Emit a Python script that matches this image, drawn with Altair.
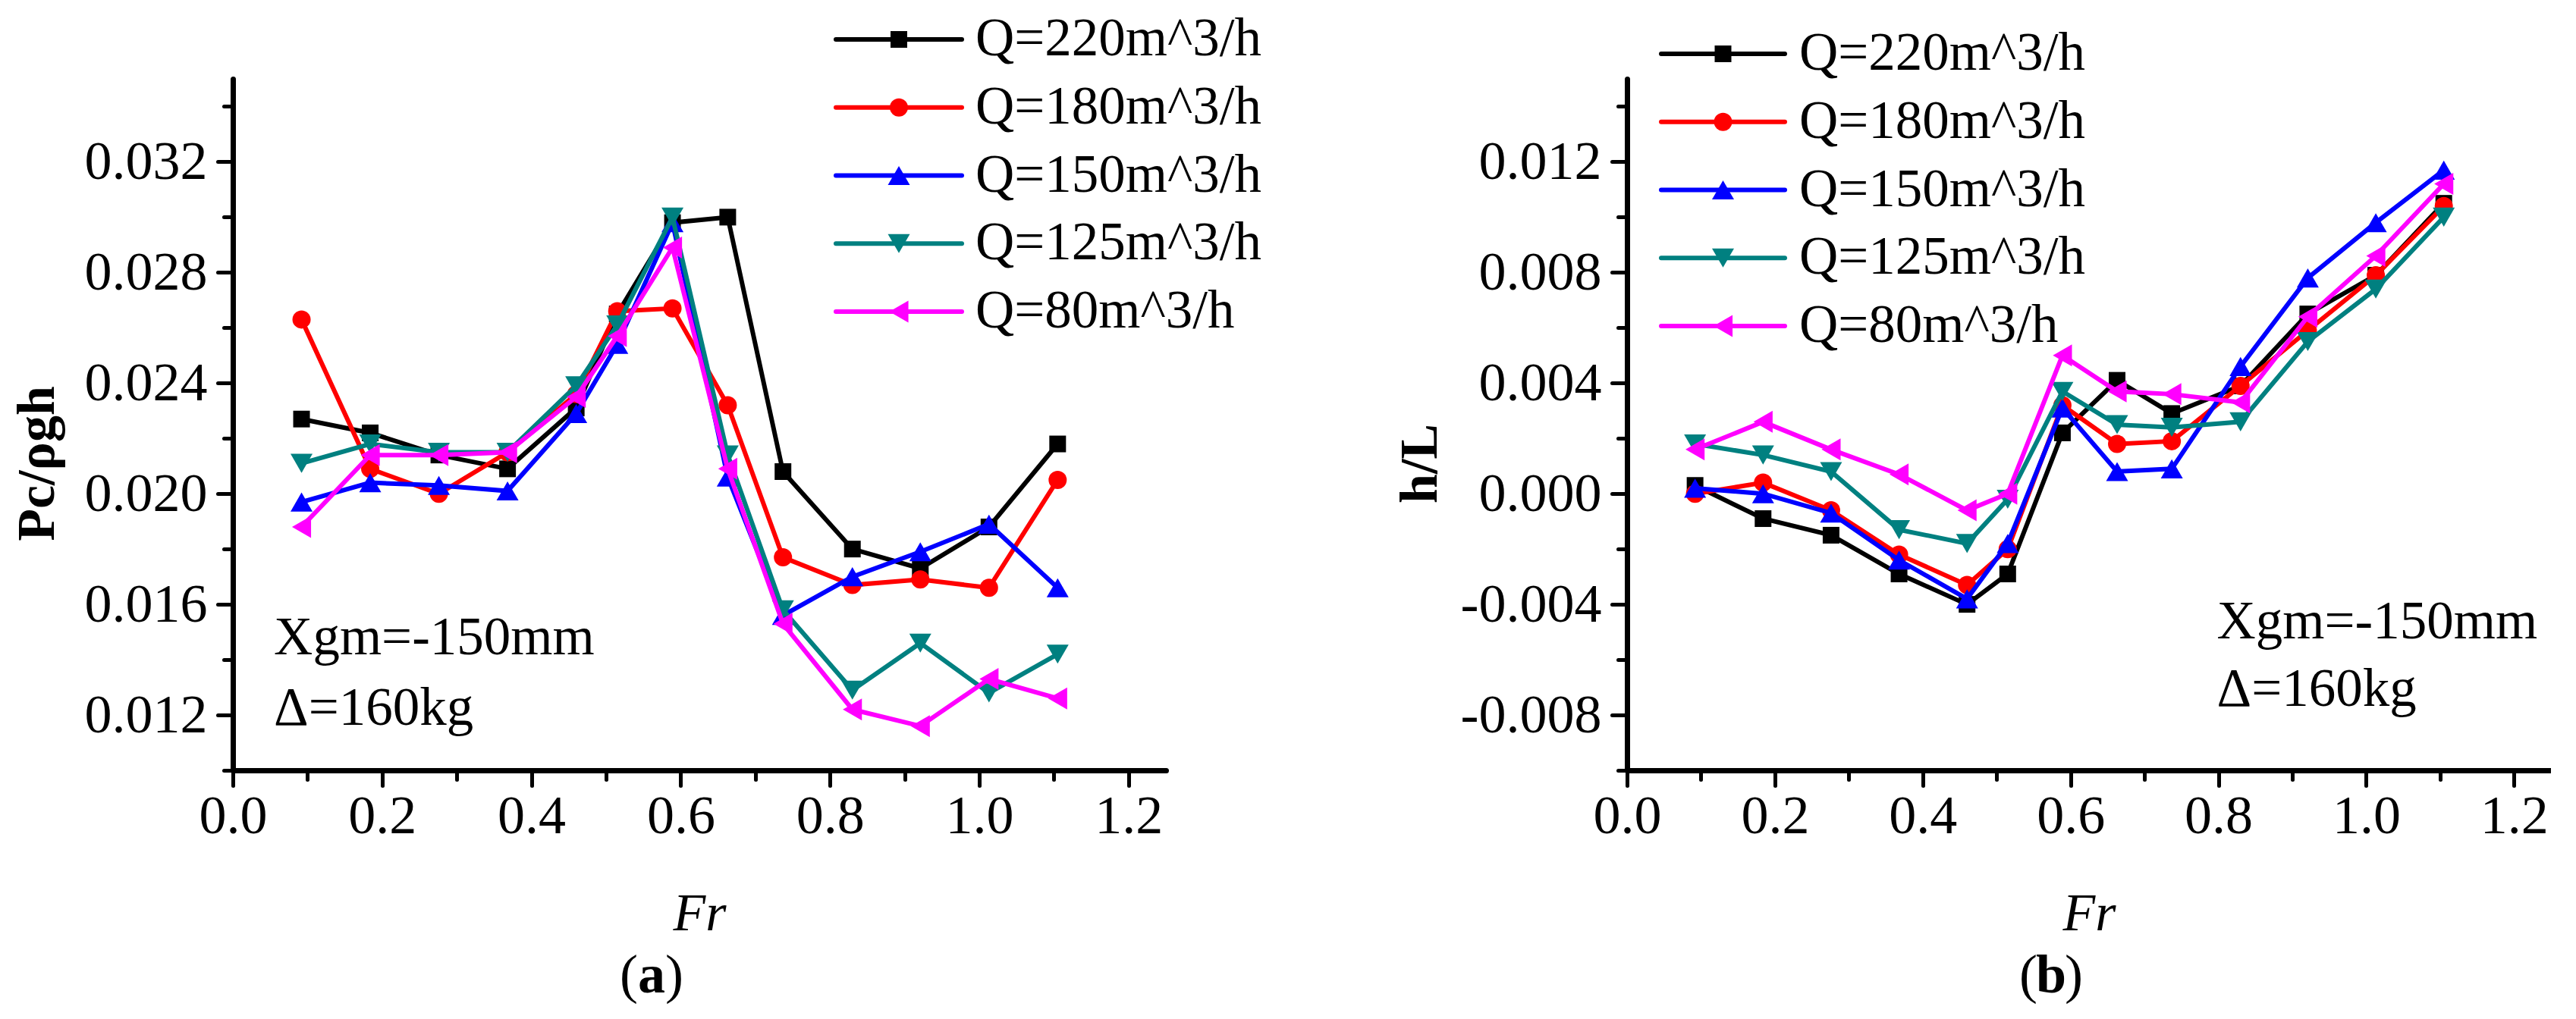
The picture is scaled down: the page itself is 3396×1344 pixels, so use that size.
import altair as alt
import pandas as pd

SERIF = "Liberation Serif"

# ---------------- data ----------------
FR = [0.092, 0.184, 0.276, 0.368, 0.460, 0.515, 0.589, 0.663, 0.737, 0.830, 0.921, 1.013, 1.105]
SERIES = ["Q=220m^3/h", "Q=180m^3/h", "Q=150m^3/h", "Q=125m^3/h", "Q=80m^3/h"]
COLORS = ["#000000", "#FF0000", "#0000FF", "#008080", "#FF00FF"]
SHAPES = ["square", "circle", "triangle-up", "triangle-down", "triangle-left"]
SIZES = [484, 576, 841, 841, 841]

# panel (a): Pc/rho g h
PC_220 = [0.0227, 0.0222, 0.0214, 0.0209, 0.0231, 0.0265, 0.0298, 0.0300, 0.0208, 0.0180, 0.0173, 0.0188, 0.0218]
PC_180 = [0.0263, 0.0209, 0.0200, 0.0215, 0.0236, 0.0266, 0.0267, 0.0232, 0.0177, 0.0167, 0.0169, 0.0166, 0.0205]
PC_150 = [0.0197, 0.0204, 0.0203, 0.0201, 0.0229, 0.0254, 0.0298, 0.0206, 0.0156, 0.0170, 0.0179, 0.0189, 0.0166]
PC_125 = [0.0211, 0.0218, 0.0215, 0.0215, 0.0239, 0.0261, 0.0300, 0.0214, 0.0158, 0.0129, 0.0146, 0.0128, 0.0142]
PC_80 = [0.0188, 0.0214, 0.0214, 0.0215, 0.0235, 0.0257, 0.0289, 0.0209, 0.0153, 0.0122, 0.0116, 0.0133, 0.0126]

# panel (b): h/L
HL_220 = [0.0003, -0.0009, -0.0015, -0.0029, -0.0040, -0.0029, 0.0022, 0.0041, 0.0029, 0.0039, 0.0065, 0.0079, 0.0105]
HL_180 = [0.0000, 0.0004, -0.0006, -0.0022, -0.0033, -0.0020, 0.0032, 0.0018, 0.0019, 0.0039, 0.0059, 0.0079, 0.0104]
HL_150 = [0.0002, 0.0000, -0.0007, -0.0024, -0.0038, -0.0018, 0.0031, 0.0008, 0.0009, 0.0046, 0.0078, 0.0098, 0.0117]
HL_125 = [0.0018, 0.0014, 0.0008, -0.0013, -0.0018, -0.0002, 0.0037, 0.0025, 0.0024, 0.0026, 0.0055, 0.0074, 0.0100]
HL_80 = [0.0016, 0.0026, 0.0016, 0.0007, -0.0006, 0.0000, 0.0050, 0.0037, 0.0036, 0.0033, 0.0064, 0.0086, 0.0112]

X_TICKS = [0.0, 0.1, 0.2, 0.3, 0.4, 0.5, 0.6, 0.7, 0.8, 0.9, 1.0, 1.1, 1.2]
Y_TICKS_A = [0.010, 0.012, 0.014, 0.016, 0.018, 0.020, 0.022, 0.024, 0.026, 0.028, 0.030, 0.032, 0.034]
Y_TICKS_B = [-0.010, -0.008, -0.006, -0.004, -0.002, 0.000, 0.002, 0.004, 0.006, 0.008, 0.010, 0.012, 0.014]

NOTE_TEXT = ["Xgm=-150mm", "\u0394=160kg"]
NOTE_A_FR = [0.055, 0.055]
NOTE_A_VAL = [0.01420, 0.01164]
NOTE_B_FR = [0.798, 0.798]
NOTE_B_VAL = [-0.00523, -0.00768]

LINE_W = 6


def x_axis():
    return alt.Axis(
        values=X_TICKS,
        title="Fr",
        titleFont=SERIF,
        titleFontSize=70,
        titleFontStyle="italic",
        titleFontWeight="normal",
        titleColor="black",
        titleBaseline="alphabetic",
        titleY=210,
        labelExpr="round(datum.value*10) % 2 == 0 ? format(datum.value, '.1f') : ''",
        labelFont=SERIF,
        labelFontSize=72,
        labelColor="black",
        labelPadding=5,
        labelLimit=400,
        labelFlush=False,
        labelOverlap=False,
        tickSize={"condition": {"test": "round(datum.value*10) % 2 == 0", "value": 20}, "value": 12},
        tickWidth=5,
        tickColor="black",
        tickCap="round",
        domainWidth=7,
        domainColor="black",
        domainCap="round",
        grid=False,
    )


def y_axis(title, ticks, tx, ty):
    return alt.Axis(
        values=ticks,
        title=title,
        titleFont=SERIF,
        titleFontSize=70,
        titleFontWeight="bold",
        titleColor="black",
        titleAngle=270,
        titleBaseline="alphabetic",
        titleX=tx,
        titleY=ty,
        labelExpr="round(datum.value*1000) % 4 == 0 ? replace(format(datum.value, '.3f'), '\u2212', '-') : ''",
        labelFont=SERIF,
        labelFontSize=72,
        labelColor="black",
        labelPadding=14,
        labelLimit=400,
        labelFlush=False,
        labelOverlap=False,
        tickSize={"condition": {"test": "round(datum.value*1000) % 4 == 0", "value": 20}, "value": 12},
        tickWidth=5,
        tickColor="black",
        tickCap="round",
        domainWidth=7,
        domainColor="black",
        domainCap="round",
        grid=False,
    )


def panel(series_vals, ytitle, ydomain, yticks, tx, leg, note_fr, note_val, tag, tag_x, w, h):
    rows = []
    for s, vals in zip(SERIES, series_vals):
        for f, v in zip(FR, vals):
            rows.append({"Fr": f, "val": v, "series": s})
    df = pd.DataFrame(rows)
    notes = pd.DataFrame({"Fr": note_fr, "val": note_val, "text": NOTE_TEXT})

    xenc = alt.X("Fr:Q", scale=alt.Scale(domain=[0, 1.25], nice=False, zero=False), axis=x_axis())
    yenc = alt.Y("val:Q", scale=alt.Scale(domain=ydomain, nice=False, zero=False),
                 axis=y_axis(ytitle, yticks, tx, 507))
    color = alt.Color("series:N", scale=alt.Scale(domain=SERIES, range=COLORS), legend=None)
    shape = alt.Shape("series:N", scale=alt.Scale(domain=SERIES, range=SHAPES), legend=None)

    base = alt.Chart(df)
    layers = []
    # series drawn one after another (line, then its markers), first series at the bottom
    for s, sz in zip(SERIES, SIZES):
        sub = base.transform_filter(alt.datum.series == s)
        layers.append(sub.mark_line(strokeWidth=LINE_W).encode(x=xenc, y=yenc, color=color))
        layers.append(sub.mark_point(filled=True, opacity=1, size=sz).encode(
            x=xenc, y=yenc, color=color, shape=shape))

    note = alt.Chart(notes).mark_text(
        align="left", baseline="alphabetic", font=SERIF, fontSize=71, color="black"
    ).encode(x=xenc, y=yenc, text="text:N")
    layers.append(note)

    tag_df = pd.DataFrame({"t": [tag]})
    tag_y = 1205
    layers.append(alt.Chart(tag_df).mark_text(text="(", align="right", baseline="alphabetic", font=SERIF,
                                              fontSize=72, color="black").encode(
        x=alt.value(tag_x - 18), y=alt.value(tag_y)))
    layers.append(alt.Chart(tag_df).mark_text(align="center", baseline="alphabetic", font=SERIF, fontSize=72,
                                              fontWeight="bold", color="black").encode(
        x=alt.value(tag_x), y=alt.value(tag_y), text="t:N"))
    layers.append(alt.Chart(tag_df).mark_text(text=")", align="left", baseline="alphabetic", font=SERIF,
                                              fontSize=72, color="black").encode(
        x=alt.value(tag_x + 18), y=alt.value(tag_y)))

    main = alt.layer(*layers)

    # legend: line segment + marker + label per series, rows placed by a point scale
    leg_df = pd.DataFrame({"series": SERIES})
    ly = alt.Y("series:N", scale=alt.Scale(type="point", domain=SERIES, range=leg["rows"], padding=0),
               axis=None)
    lbase = alt.Chart(leg_df)
    leg_layers = [lbase.mark_rule(strokeWidth=LINE_W, strokeCap="round").encode(
        x=alt.value(leg["x1"]), x2=alt.value(leg["x2"]), y=ly, color=color)]
    for s, sz in zip(SERIES, SIZES):
        leg_layers.append(lbase.transform_filter(alt.datum.series == s).mark_point(
            filled=True, opacity=1, size=sz).encode(
            x=alt.value((leg["x1"] + leg["x2"]) / 2), y=ly, color=color, shape=shape))
    leg_layers.append(lbase.mark_text(align="left", baseline="middle", font=SERIF, fontSize=71,
                                      color="black").encode(
        x=alt.value(leg["tx"]), y=ly, text="series:N"))
    legend = alt.layer(*leg_layers)

    return alt.layer(main, legend).resolve_scale(y="independent").properties(width=w, height=h)


LEG_A = {"x1": 795, "x2": 961, "tx": 979, "rows": [-52, 307]}
LEG_B = {"x1": 45, "x2": 208, "tx": 227, "rows": [-33, 326]}

left = panel([PC_220, PC_180, PC_150, PC_125, PC_80], "Pc/\u03c1gh", [0.010, 0.035], Y_TICKS_A,
             -237, LEG_A, NOTE_A_FR, NOTE_A_VAL, "a", 552, 1230, 912)
right = panel([HL_220, HL_180, HL_150, HL_125, HL_80], "h/L", [-0.010, 0.015], Y_TICKS_B,
              -252, LEG_B, NOTE_B_FR, NOTE_B_VAL, "b", 559, 1218, 912)

chart = alt.hconcat(left, right, spacing=608, bounds="flush").resolve_scale(
    color="independent", shape="independent"
).properties(
    padding={"left": 6, "top": 8, "right": 0, "bottom": 6}, background="white"
).configure_view(stroke=None)

chart.save("out.html", embed_options={"renderer": "svg", "actions": False})
